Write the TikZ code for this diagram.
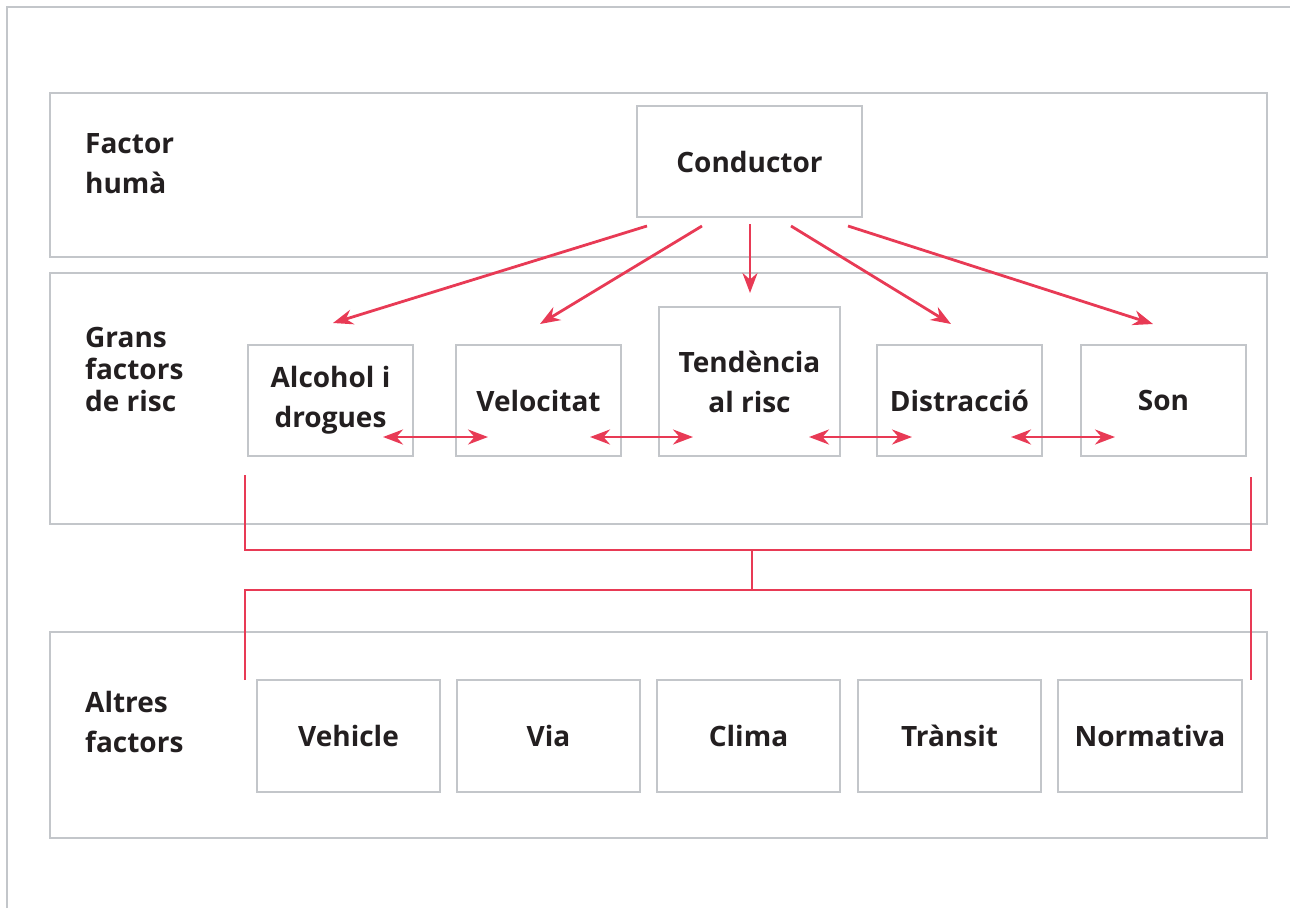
\documentclass[tikz,border=0pt]{standalone}
\usepackage{fontspec}
\setmainfont{Open Sans}
\usetikzlibrary{arrows.meta}
\definecolor{framegray}{HTML}{C3C6CA}
\definecolor{accent}{HTML}{E83A55}
\definecolor{ink}{HTML}{231F20}
\begin{document}
\begin{tikzpicture}[x=1pt,y=-1pt,
  band/.style={draw=framegray,line width=1.5pt},
  box/.style={draw=framegray,line width=1.5pt,align=center,text=ink,inner sep=0pt,
    font=\fontsize{28}{40}\selectfont\bfseries},
  lbl/.style={anchor=west,align=left,text=ink,inner sep=0pt,
    font=\fontsize{28}{40}\selectfont\bfseries},
  lbltight/.style={lbl,font=\fontsize{28}{32}\selectfont\bfseries},
  link/.style={draw=accent,line width=2.8pt},
  onearrow/.style={link,-{Stealth[length=20pt,width=15pt]}},
  twoarrow/.style={link,{Stealth[length=20pt,width=15pt]}-{Stealth[length=20pt,width=15pt]}}
]
\useasboundingbox (0,0) rectangle (1290,908);
% outer frame
\draw[band] (7,908) -- (7,7) -- (1290,7);
% bands
\draw[band] (50,93) rectangle (1267,257);
\draw[band] (50,273) rectangle (1267,524);
\draw[band] (50,632) rectangle (1267,838);
% labels
\node[lbl] (l1) at (85,164) {Factor\\humà};
\node[lbltight] (l2) at (85,369) {Grans\\factors\\de risc};
\node[lbl] (l3) at (85,722) {Altres\\factors};
% conductor
\node[box,minimum width=225pt,minimum height=111pt] (cond) at (749.5,161.5) {Conductor};
% row 2
\node[box,minimum width=165pt,minimum height=111pt] (alc) at (330.5,400.5) {Alcohol i\\drogues};
\node[box,minimum width=165pt,minimum height=111pt] (vel) at (538.5,400.5) {Velocitat};
\node[box,minimum width=181pt,minimum height=149pt] (ten) at (749.5,381.5) {Tendència\\al risc};
\node[box,minimum width=165pt,minimum height=111pt] (dis) at (959.5,400.5) {Distracció};
\node[box,minimum width=165pt,minimum height=111pt] (son) at (1163.5,400.5) {Son};
% row 3
\node[box,minimum width=183pt,minimum height=112pt] (veh) at (348.5,736) {Vehicle};
\node[box,minimum width=183pt,minimum height=112pt] (via) at (548.5,736) {Via};
\node[box,minimum width=183pt,minimum height=112pt] (cli) at (748.5,736) {Clima};
\node[box,minimum width=183pt,minimum height=112pt] (tra) at (949.5,736) {Trànsit};
\node[box,minimum width=184pt,minimum height=112pt] (nor) at (1150,736) {Normativa};
% conductor arrows
\coordinate (s1) at (647,226); \coordinate (e1) at (333,323);
\coordinate (s2) at (702,226); \coordinate (e2) at (540,324);
\coordinate (s3) at (750,224); \coordinate (e3) at (750,293);
\coordinate (s4) at (791,226); \coordinate (e4) at (951,324);
\coordinate (s5) at (848,226); \coordinate (e5) at (1153,324);
\draw[onearrow] (s1) -- (e1);
\draw[onearrow] (s2) -- (e2);
\draw[onearrow] (s3) -- (e3);
\draw[onearrow] (s4) -- (e4);
\draw[onearrow] (s5) -- (e5);
% double arrows
\coordinate (a1) at (383,437); \coordinate (b1) at (488,437);
\coordinate (a2) at (590,437); \coordinate (b2) at (693,437);
\coordinate (a3) at (809,437); \coordinate (b3) at (912,437);
\coordinate (a4) at (1011,437); \coordinate (b4) at (1115,437);
\draw[twoarrow] (a1) -- (b1);
\draw[twoarrow] (a2) -- (b2);
\draw[twoarrow] (a3) -- (b3);
\draw[twoarrow] (a4) -- (b4);
% bracket
\coordinate (u1) at (245,475); \coordinate (u2) at (1251,477);
\coordinate (m1) at (752,550); \coordinate (m2) at (752,590);
\coordinate (d1) at (245,680); \coordinate (d2) at (1251,680);
\draw[link] (u1) |- (m1) -| (u2);
\draw[link] (m1) -- (m2);
\draw[link] (d1) |- (m2) -| (d2);
\end{tikzpicture}
\end{document}
